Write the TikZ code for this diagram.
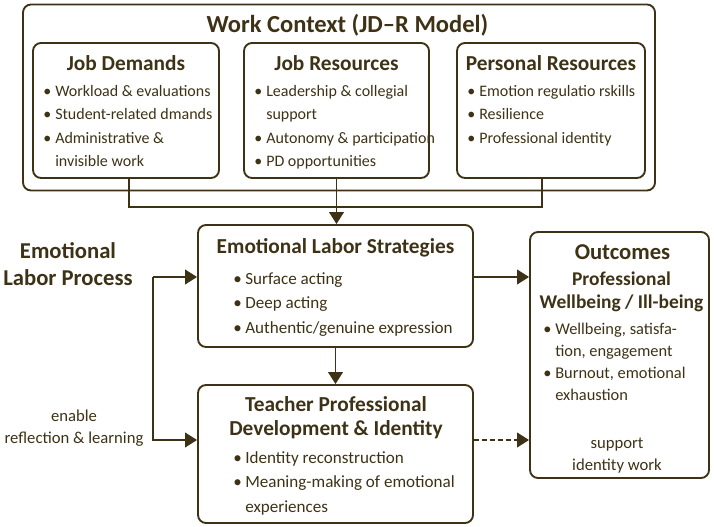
\documentclass[tikz,border=0pt]{standalone}
\usepackage{fontspec}
\setmainfont{Carlito}
\usepackage{tikz}
\usetikzlibrary{positioning, arrows.meta, calc}
\definecolor{ink}{RGB}{62,50,22}
\newcommand{\bul}{\makebox[9pt][l]{\textbullet}}
\newcommand{\cont}{\hspace*{9pt}}

\begin{document}
\begin{tikzpicture}[x=0.75pt, y=-0.75pt,
  box/.style={draw=ink, line width=1.4pt, rounded corners=6pt},
  hd/.style={font=\bfseries\fontsize{16}{19}\selectfont, text=ink, inner sep=0pt, align=center},
  lst/.style={font=\fontsize{12}{17.5}\selectfont, text=ink, align=left, inner sep=0pt, anchor=north west},
  biglst/.style={lst, font=\fontsize{12.8}{18.4}\selectfont},
  note/.style={font=\fontsize{12.5}{16.5}\selectfont, text=ink, inner sep=0pt, align=center},
  link/.style={draw=ink, line width=1.4pt},
  arr/.style={link, -{Triangle[length=9pt, width=11pt]}}]
\useasboundingbox (0,0) rectangle (714,527);
% work context
\node[box, minimum width=474pt, minimum height=139.5pt] (ctx) at (339,97.5) {};
\node[hd, font=\bfseries\fontsize{18.4}{22}\selectfont] (ctxt) at (347.5,25) {Work Context (JD--R Model)};
\node[box, minimum width=139.5pt, minimum height=101.25pt] (jd) at (126,110.5) {};
\node[box, minimum width=138.75pt, minimum height=101.25pt] (jr) at (336.5,110.5) {};
\node[box, minimum width=141pt, minimum height=101.25pt] (pr) at (551,110.5) {};
\node[hd] (jdt) at (126,63) {Job Demands};
\node[hd] (jrt) at (336.5,63) {Job Resources};
\node[hd] (prt) at (551,63) {Personal Resources};
\node[lst] (jdl) at (43,85) {\bul Workload \& evaluations\\ \bul Student-related dmands\\ \bul Administrative \&\\ \cont invisible work};
\node[lst] (jrl) at (254,85) {\bul Leadership \& collegial\\ \cont support\\ \bul Autonomy \& participation\\ \bul PD opportunities};
\node[lst] (prl) at (467,85) {\bul Emotion regulatio rskills\\ \bul Resilience\\ \bul Professional identity};
% process
\node[box, minimum width=206.25pt, minimum height=91.5pt] (els) at (335.5,286) {};
\node[hd] (elst) at (335.5,248) {Emotional Labor Strategies};
\node[biglst] (elsl) at (233,272) {\bul Surface acting\\ \bul Deep acting\\ \bul Authentic/genuine expression};
\node[box, minimum width=206.25pt, minimum height=103.5pt] (tpd) at (335.5,454) {};
\node[hd, font=\bfseries\fontsize{16}{18}\selectfont] (tpdt) at (336,418) {Teacher Professional\\ Development \& Identity};
\node[biglst] (tpdl) at (233,451) {\bul Identity reconstruction\\ \bul Meaning-making of emotional\\ \cont experiences};
\node[box, minimum width=134.25pt, minimum height=184.5pt] (out) at (619.5,355) {};
\node[hd, font=\bfseries\fontsize{17}{20}\selectfont] (outt) at (622.5,252) {Outcomes};
\node[hd, font=\bfseries\fontsize{14.6}{17.5}\selectfont] (outs) at (621.5,292) {Professional\\ Wellbeing / Ill-being};
\node[lst, font=\fontsize{12.3}{16.5}\selectfont] (outl) at (543,323) {\bul Wellbeing, satisfa-\\ \cont tion, engagement\\ \bul Burnout, emotional\\ \cont exhaustion};
\node[note] (sup) at (617,456) {support\\ identity work};
\node[hd, font=\bfseries\fontsize{17}{20}\selectfont] (proc) at (68,264) {Emotional\\ Labor Process};
\node[note] (refl) at (74,428) {enable\\ reflection \& learning};
% connectors
\coordinate (j) at (336,207);
\coordinate (lt) at (153,277);
\coordinate (lb) at (153,440);
\draw[link] ([xshift=2pt]jd.south) |- (j) -| ([xshift=-7pt]pr.south);
\draw[arr] (jr.south) -- (jr.south |- els.north);
\draw[arr] (lt -| els.east) -- (lt -| out.west);
\draw[arr] (els.south) -- (tpd.north);
\draw[arr] (lt) -- (lt -| els.west);
\draw[arr] (lt) |- (lb -| tpd.west);
\draw[arr, dash pattern=on 4pt off 2pt] (lb -| tpd.east) -- (lb -| out.west);
\end{tikzpicture}
\end{document}
